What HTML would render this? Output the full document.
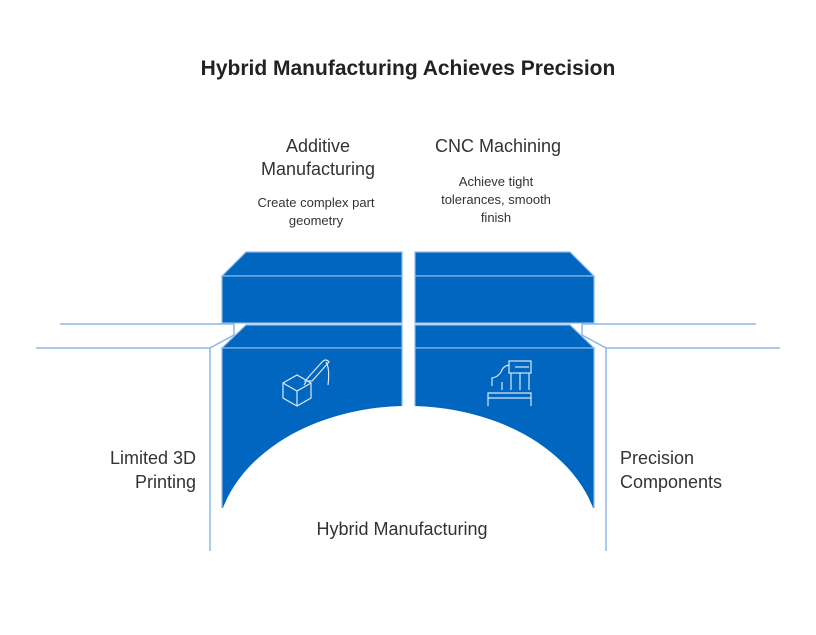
<!DOCTYPE html>
<html><head><meta charset="utf-8"><style>
html,body{margin:0;padding:0;background:#fff;width:816px;height:635px;overflow:hidden;}
svg{display:block;}
svg text{font-family:"Liberation Sans",sans-serif;}
</style></head><body>
<svg width="816" height="635" viewBox="0 0 816 635" xmlns="http://www.w3.org/2000/svg">
<rect width="816" height="635" fill="#fff"/>
<text x="408" y="75" text-anchor="middle" font-size="21" font-weight="bold" fill="#222">Hybrid Manufacturing Achieves Precision</text>
<g stroke="#8db8e6" stroke-width="1.5" fill="none">
<path d="M60 324H234V335L210 348V551M36 348H210"/>
<path d="M756 324H582V335L606 348V551M780 348H606"/>
</g>
<g fill="#0066bf" stroke="#8db8e6" stroke-width="1.2">
<path d="M246 252H402V276H222Z"/><rect x="222" y="276" width="180" height="47"/>
<path d="M415 252H570L594 276H415Z"/><rect x="415" y="276" width="179" height="47"/>
<path d="M246 325H402V348H222Z"/>
<path d="M415 325H570L594 348H415Z"/>
<rect x="222" y="348" width="180" height="170"/>
<rect x="415" y="348" width="179" height="170"/>
</g>
<ellipse cx="408" cy="545" rx="192" ry="139" fill="#fff"/>
<rect x="215" y="508" width="386" height="40" fill="#fff"/>
<g stroke="#fff" stroke-width="1.2" fill="none" opacity="0.85">
<path d="M283 383L297 375L311 383L311 398L297 406L283 398Z M283 383L297 391L311 383 M297 391V406"/>
<path d="M305 381L322 362Q326 358 329 362L312 381Z M306 382L304 385"/>
<path d="M326 362Q330 368 328 385"/>
<rect x="509" y="361" width="22" height="12"/><path d="M515 367H529"/>
<path d="M511 373V390M520 373V390M529 373V390M502 390V382M488 393H531V398H488ZM488 398V406M531 398V406"/>
<path d="M509 365Q503 366 501 372Q498 377 492 378V386"/>
</g>
<g fill="#333" text-anchor="middle">
<text x="318" y="152" font-size="18">Additive</text>
<text x="318" y="175" font-size="18">Manufacturing</text>
<text x="316" y="207" font-size="13">Create complex part</text>
<text x="316" y="225" font-size="13">geometry</text>
<text x="498" y="152" font-size="18">CNC Machining</text>
<text x="496" y="186" font-size="13">Achieve tight</text>
<text x="496" y="204" font-size="13">tolerances, smooth</text>
<text x="496" y="222" font-size="13">finish</text>
<text x="402" y="535" font-size="18">Hybrid Manufacturing</text>
</g>
<g fill="#333" font-size="18">
<text x="196" y="464" text-anchor="end">Limited 3D</text>
<text x="196" y="488" text-anchor="end">Printing</text>
<text x="620" y="464">Precision</text>
<text x="620" y="488">Components</text>
</g>
</svg>
</body></html>
